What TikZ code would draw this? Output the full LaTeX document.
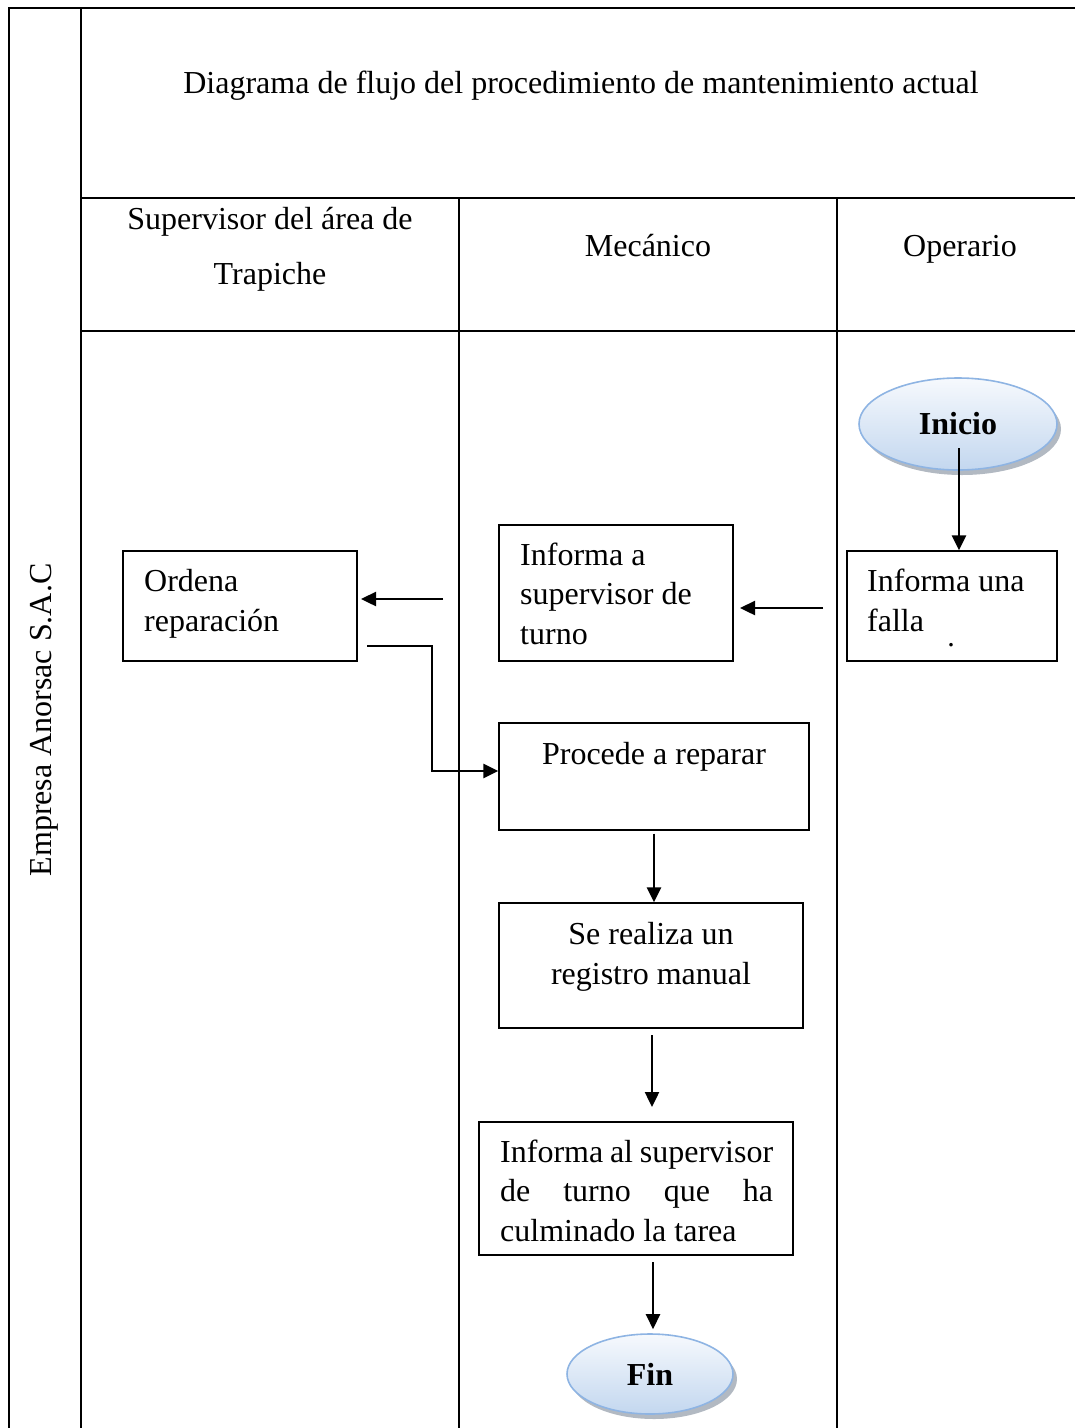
\documentclass[tikz,border=0pt]{standalone}
\usepackage{fontspec}
\setmainfont{Liberation Serif}
\usetikzlibrary{arrows.meta,shapes.geometric,shadows}

\definecolor{ovalline}{HTML}{8EB4E3}
\definecolor{ovaltop}{HTML}{F6F9FD}
\definecolor{ovalbot}{HTML}{C3D7EF}
\definecolor{ovalshadow}{HTML}{7F8A99}

\tikzset{
  grid/.style={line width=1.8pt},
  box/.style={draw, line width=1.3pt, inner sep=0pt},
  txt/.style={inner sep=0pt, font=\fontsize{32}{39.5}\selectfont},
  oval/.style={ellipse, draw=ovalline, line width=1.6pt, inner sep=0pt,
    top color=ovaltop, bottom color=ovalbot,
    drop shadow={shadow xshift=4pt, shadow yshift=-5pt, fill=ovalshadow, opacity=0.6},
    font=\fontsize{32}{36}\selectfont\bfseries},
  arr/.style={line width=2.4pt, -{Triangle[length=15pt,width=14pt]}},
}

\begin{document}
\begin{tikzpicture}[x=1pt,y=-1pt]
\useasboundingbox (0,0) rectangle (1075,1428);

% swimlane table
\draw[grid] (9,1428) -- (9,8) -- (1075,8);
\draw[grid] (81,8) -- (81,1428);
\draw[grid] (81,198) -- (1075,198);
\draw[grid] (81,331) -- (1075,331);
\draw[grid] (459,198) -- (459,1428);
\draw[grid] (837,198) -- (837,1428);

% headings (multi-line nodes are placed by the baseline of their last line)
\node[txt, anchor=base] (title) at (581,93)
  {Diagrama de flujo del procedimiento de mantenimiento actual};
\node[txt, anchor=base, align=center, font=\fontsize{32}{55}\selectfont] (lane1) at (270,284)
  {Supervisor del área de\\Trapiche};
\node[txt, anchor=base] (lane2) at (648,256) {Mecánico};
\node[txt, anchor=base] (lane3) at (960,256) {Operario};
\node[txt, rotate=90] (company) at (44,720) {Empresa Anorsac S.A.C};

% terminals
\node[oval, minimum width=198pt, minimum height=92pt] (inicio) at (958,424) {Inicio};
\node[oval, minimum width=166pt, minimum height=80pt] (fin) at (650,1374) {Fin};

% process boxes
\node[box, minimum width=210pt, minimum height=110pt] (falla) at (952,606) {};
\node[txt, anchor=base west, align=left] (falla-t) at (867,631) {Informa una\\falla};
\node[inner sep=0pt, font=\fontsize{30}{30}\selectfont] (falla-dot) at (951,645) {.};

\node[box, minimum width=234pt, minimum height=136pt] (informa) at (616,593) {};
\node[txt, anchor=base west, align=left] (informa-t) at (520,644)
  {Informa a\\supervisor de\\turno};

\node[box, minimum width=234pt, minimum height=110pt] (ordena) at (240,606) {};
\node[txt, anchor=base west, align=left] (ordena-t) at (144,631) {Ordena\\reparación};

\node[box, minimum width=310pt, minimum height=107pt] (procede) at (654,776.5) {};
\node[txt, anchor=base] (procede-t) at (654,764) {Procede a reparar};

\node[box, minimum width=304pt, minimum height=125pt] (registro) at (651,965.5) {};
\node[txt, anchor=base, align=center] (registro-t) at (651,984)
  {Se realiza un\\registro manual};

\node[box, minimum width=314pt, minimum height=133pt] (culmina) at (636,1188.5) {};
\node[txt, anchor=base west, align=left] (culmina-t) at (500,1241)
  {\makebox[273pt][s]{Informa al supervisor}\\
   \makebox[273pt][s]{de turno que ha}\\
   culminado la tarea};

% connectors
\coordinate (a1) at (959,448);
\draw[arr] (a1) -- (a1 |- falla.north);

\coordinate (a2s) at (823,608);
\coordinate (a2e) at (740,608);
\draw[arr] (a2s) -- (a2e);

\coordinate (a3s) at (443,599);
\coordinate (a3e) at (361,599);
\draw[arr] (a3s) -- (a3e);

\coordinate (a4s) at (367,646);
\coordinate (a4k) at (432,771);
\draw[arr] (a4s) -| (a4k) -- (a4k -| procede.west);

\draw[arr, shorten <=3pt] (procede.south) -- (procede.south |- registro.north);

\coordinate (a6s) at (652,1035);
\coordinate (a6e) at (652,1107);
\draw[arr] (a6s) -- (a6e);

\coordinate (a7s) at (653,1262);
\draw[arr, shorten >=4pt] (a7s) -- (a7s |- fin.north);
\end{tikzpicture}
\end{document}
